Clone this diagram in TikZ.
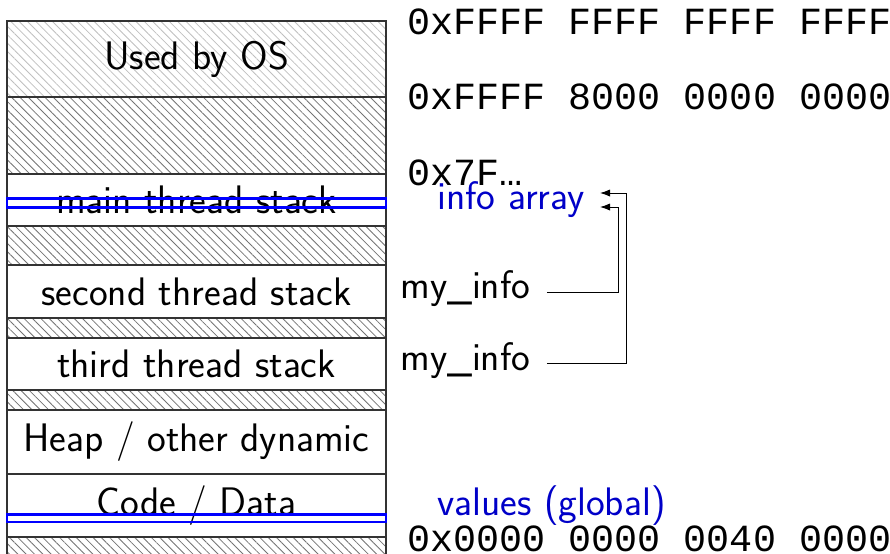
\documentclass[tikz,border=0pt]{standalone}
\usepackage{fontspec}
\newfontfamily\addrfont{Liberation Mono}
\usetikzlibrary{patterns.meta,arrows.meta}
\definecolor{notecolor}{RGB}{0,0,200}
\tikzset{
  regionbox/.style={draw=black!80, line width=0.6pt, minimum width=189.5pt,
    inner sep=0pt, outer sep=0pt, anchor=north},
  lighthatch/.style={pattern={Lines[angle=-45,distance=2.95pt,line width=0.4pt]}, pattern color=black!25},
  darkhatch/.style={pattern={Lines[angle=-45,distance=2.95pt,line width=0.4pt]}, pattern color=black!55},
  addr/.style={font=\addrfont\fontsize{19.2}{22}\selectfont, anchor=west, inner sep=0pt},
  bluenote/.style={text=notecolor, anchor=base west, inner sep=0pt},
  varnote/.style={anchor=base west, inner sep=0pt},
  conn/.style={line width=0.5pt},
  marker/.style={draw=blue, line width=1.4pt}
}
\begin{document}
\begin{tikzpicture}[x=0.5pt,y=-0.5pt,font=\sffamily\fontsize{19.9}{23}\selectfont]
\path[use as bounding box, clip] (0,0) rectangle (890,553);

% memory regions
\node[regionbox, lighthatch, minimum height=38pt]   (os)     at (196.5,21)  {Used by OS};
\node[regionbox, darkhatch,  minimum height=38.5pt] (gap1)   at (196.5,97)  {};
\node[regionbox,             minimum height=26pt]   (main)   at (196.5,174) {main thread stack};
\node[regionbox, darkhatch,  minimum height=19.5pt] (gap2)   at (196.5,226) {};
\node[regionbox,             minimum height=26.5pt] (second) at (196.5,265) {second thread stack};
\node[regionbox, darkhatch,  minimum height=10pt]   (gap3)   at (196.5,318) {};
\node[regionbox,             minimum height=26pt]   (third)  at (196.5,338) {third thread stack};
\node[regionbox, darkhatch,  minimum height=10pt]   (gap4)   at (196.5,390) {};
\node[regionbox,             minimum height=32pt]   (heap)   at (196.5,410) {Heap / other dynamic};
\node[regionbox,             minimum height=31.5pt] (code)   at (196.5,474) {Code / Data};
\node[regionbox, darkhatch,  minimum height=11.5pt] (gap5)   at (196.5,537) {};

% highlighted slices
\draw[marker] (7,198.7) rectangle (386,207.6);
\draw[marker] (7,514.7) rectangle (386,522);

% addresses
\node[addr] (a1) at (407,21.5) {0xFFFF FFFF FFFF FFFF};
\node[addr] (a2) at (407,97)   {0xFFFF 8000 0000 0000};
\node[addr] (a3) at (407,172.5) {0x7F…};
\node[addr] (a4) at (407,539)  {0x0000 0000 0040 0000};

% labels
\node[bluenote] (info) at (437,209.5) {info array};
\node[bluenote] (vals) at (437,515)   {values (global)};
\node[varnote]  (m1)   at (400,298)   {my\_info};
\node[varnote]  (m2)   at (400,370)   {my\_info};

% connectors
\coordinate (t1) at (600,207);
\coordinate (t2) at (600,193);
\coordinate (c1) at (618,207);
\coordinate (c2) at (626,193);
\draw[conn, -{Latex[length=5pt,width=3.6pt]}] ([xshift=8pt,yshift=3pt]m1.base east) -| (c1) -- (t1);
\draw[conn, -{Latex[length=5pt,width=3.6pt]}] ([xshift=8pt,yshift=3.5pt]m2.base east) -| (c2) -- (t2);
\end{tikzpicture}
\end{document}
